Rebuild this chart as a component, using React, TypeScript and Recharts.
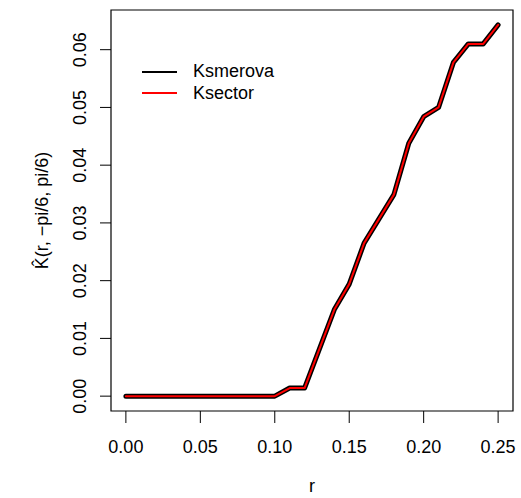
import { Legend, Line, LineChart, ReferenceArea, XAxis, YAxis } from "recharts";

const rValues = [
  0, 0.01, 0.02, 0.03, 0.04, 0.05, 0.06, 0.07, 0.08, 0.09, 0.1, 0.11, 0.12,
  0.13, 0.14, 0.15, 0.16, 0.17, 0.18, 0.19, 0.2, 0.21, 0.22, 0.23, 0.24, 0.25
];

const ksmerova = [
  0, 0, 0, 0, 0, 0, 0, 0, 0, 0, 0, 0.0014, 0.0014,
  0.0082, 0.015, 0.0194, 0.0265, 0.0307, 0.0349, 0.0438, 0.0484, 0.05, 0.0578, 0.061, 0.061, 0.0643
];

const ksector = [
  0, 0, 0, 0, 0, 0, 0, 0, 0, 0, 0, 0.0014, 0.0014,
  0.0082, 0.015, 0.0194, 0.0265, 0.0307, 0.0349, 0.0438, 0.0484, 0.05, 0.0578, 0.061, 0.061, 0.0643
];

const xTicks = [0, 0.05, 0.1, 0.15, 0.2, 0.25];
const yTicks = [0, 0.01, 0.02, 0.03, 0.04, 0.05, 0.06];

const legendItems = [
  { name: "Ksmerova", color: "#000" },
  { name: "Ksector", color: "#ff0000" }
];

const data = rValues.map((r, i) => ({ r, ksmerova: ksmerova[i], ksector: ksector[i] }));

// R-style 4% padding on both axes
const pad = (lo: number, hi: number): [number, number] => [lo - 0.04 * (hi - lo), hi + 0.04 * (hi - lo)];
const xDomain = pad(Math.min(...rValues), Math.max(...rValues));
const yDomain = pad(Math.min(...ksmerova, ...ksector), Math.max(...ksmerova, ...ksector));

const font = "'Liberation Sans', Arial, Helvetica, sans-serif";

function XTick({ x, y, payload }: any) {
  return (
    <text x={x} y={y + 30} textAnchor="middle" fontSize={18} fontFamily={font} fill="#000">
      {Number(payload.value).toFixed(2)}
    </text>
  );
}

function YTick({ x, y, payload }: any) {
  const bx = x - 14;
  return (
    <text x={bx} y={y} transform={`rotate(-90, ${bx}, ${y})`} textAnchor="middle" fontSize={18} fontFamily={font} fill="#000">
      {Number(payload.value).toFixed(2)}
    </text>
  );
}

function LegendBox() {
  return (
    <div style={{ fontFamily: font, fontSize: 18 }}>
      {legendItems.map((p) => (
        <div key={p.name} style={{ display: "flex", alignItems: "center", height: 21.6 }}>
          <div style={{ width: 35, height: 2, background: p.color, marginRight: 16 }} />
          <span style={{ color: "#000", lineHeight: "21.6px" }}>{p.name}</span>
        </div>
      ))}
    </div>
  );
}

export default function App() {
  return (
    <div style={{ position: "absolute", left: 0, top: 0, width: 521, height: 498, background: "#fff" }}>
      <LineChart width={521} height={498} data={data} margin={{ top: 10, right: 8, left: 0, bottom: 0 }}>
        <XAxis
          dataKey="r"
          type="number"
          domain={xDomain}
          ticks={xTicks}
          allowDataOverflow
          axisLine={false}
          tickSize={12}
          tickMargin={0}
          tickLine={{ stroke: "#000" }}
          tick={<XTick />}
          height={87}
          label={{
            content: ({ viewBox }: any) => (
              <text x={viewBox.x + viewBox.width / 2} y={492} textAnchor="middle" fontSize={18} fontFamily={font} fill="#000">
                r
              </text>
            )
          }}
        />
        <YAxis
          type="number"
          domain={yDomain}
          ticks={yTicks}
          allowDataOverflow
          axisLine={false}
          tickSize={11}
          tickMargin={0}
          tickLine={{ stroke: "#000" }}
          tick={<YTick />}
          width={111}
          label={{
            content: ({ viewBox }: any) => {
              const cy = viewBox.y + viewBox.height / 2;
              return (
                <text x={48} y={cy} transform={`rotate(-90, 48, ${cy})`} textAnchor="middle" fontSize={18} fontFamily={font} fill="#000">
                  K̂(r, −pi/6, pi/6)
                </text>
              );
            }
          }}
        />
        <ReferenceArea x1={xDomain[0]} x2={xDomain[1]} y1={yDomain[0]} y2={yDomain[1]} fill="none" stroke="#000" strokeWidth={1.2} />
        <Legend
          layout="vertical"
          align="center"
          verticalAlign="middle"
          wrapperStyle={{ left: 142, top: 61, width: "auto" }}
          content={<LegendBox />}
        />
        <Line
          type="linear"
          dataKey="ksmerova"
          name="Ksmerova"
          stroke="#000"
          strokeWidth={5}
          strokeLinecap="round"
          strokeLinejoin="round"
          dot={false}
          isAnimationActive={false}
        />
        <Line
          type="linear"
          dataKey="ksector"
          name="Ksector"
          stroke="#ff0000"
          strokeWidth={2}
          strokeLinecap="round"
          strokeLinejoin="round"
          dot={false}
          isAnimationActive={false}
        />
      </LineChart>
    </div>
  );
}
